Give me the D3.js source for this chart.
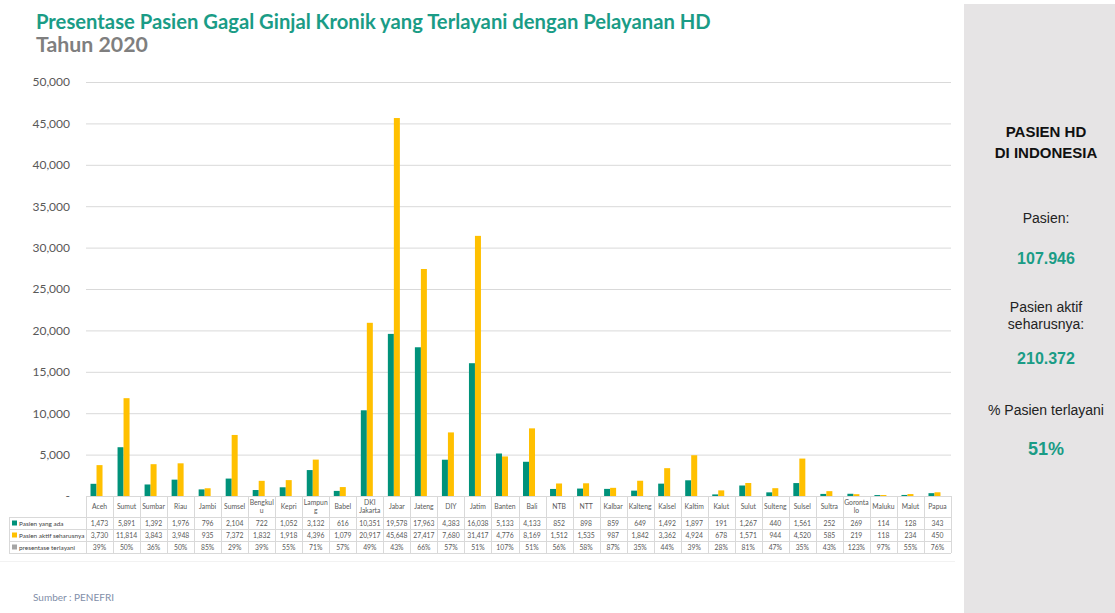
<!DOCTYPE html>
<html>
<head>
<meta charset="utf-8">
<script src="https://cdn.jsdelivr.net/npm/d3@7"></script>
<style>
  body { margin: 0; background: #fff; }
  svg { display: block; }
</style>
</head>
<body>
<div id="chart"></div>
<script>
// provinsi (label tabel, "\n" = baris kedua)
var categories = ["Aceh", "Sumut", "Sumbar", "Riau", "Jambi", "Sumsel", "Bengkul\nu", "Kepri", "Lampun\ng", "Babel",
  "DKI\nJakarta", "Jabar", "Jateng", "DIY", "Jatim", "Banten", "Bali", "NTB", "NTT", "Kalbar", "Kalteng",
  "Kalsel", "Kaltim", "Kalut", "Sulut", "Sulteng", "Sulsel", "Sultra", "Goronta\nlo", "Maluku", "Malut", "Papua"];

var pasienAda = [1473, 5891, 1392, 1976, 796, 2104, 722, 1052, 3132, 616,
  10351, 19578, 17963, 4383, 16038, 5133, 4133, 852, 898, 859, 649,
  1492, 1897, 191, 1267, 440, 1561, 252, 269, 114, 128, 343];

var pasienAktif = [3730, 11814, 3843, 3948, 935, 7372, 1832, 1918, 4396, 1079,
  20917, 45648, 27417, 7680, 31417, 4776, 8169, 1512, 1535, 987, 1842,
  3362, 4924, 678, 1571, 944, 4520, 585, 219, 118, 234, 450];

var presentase = [39, 50, 36, 50, 85, 29, 39, 55, 71, 57,
  49, 43, 66, 57, 51, 107, 51, 56, 58, 87, 35,
  44, 39, 28, 81, 47, 35, 43, 123, 97, 55, 76];

var seriesNames = ["Pasien yang ada", "Pasien aktif seharusnya", "presentase terlayani"];
var yTicks = [0, 5000, 10000, 15000, 20000, 25000, 30000, 35000, 40000, 45000, 50000];

var summaryLabels = ["Pasien:", "Pasien aktif\nseharusnya:", "% Pasien terlayani"];
var summaryValues = ["107.946", "210.372", "51%"];

var W = 1115, H = 613;
var green = "#00927a", yellow = "#ffc000", grey = "#a5a5a5";
var teal = "#1a9c86";
var font = "Lato, 'Open Sans', sans-serif";

var svg = d3.select("#chart").append("svg")
    .attr("width", W)
    .attr("height", H);

// right panel
svg.append("rect")
    .attr("x", 964).attr("y", 4)
    .attr("width", W - 964).attr("height", H - 4)
    .attr("fill", "#e6e4e5");

// title
var t1 = svg.append("text")
    .attr("x", 36).attr("y", 29)
    .style("font-family", font).style("font-weight", "bold")
    .style("font-size", "20px").attr("fill", teal)
    .text("Presentase Pasien Gagal Ginjal Kronik yang Terlayani dengan Pelayanan HD");
var w1 = t1.node().getComputedTextLength();
t1.style("font-size", (20 * 675 / w1) + "px");

var t2 = svg.append("text")
    .attr("x", 36).attr("y", 52)
    .style("font-family", font).style("font-weight", "bold")
    .style("font-size", "20px").attr("fill", "#7f7f7f")
    .text("Tahun 2020");
var w2 = t2.node().getComputedTextLength();
t2.style("font-size", (20 * 112 / w2) + "px");

// scales
var plotLeft = 86, plotRight = 951, plotBase = 496, plotTop = 82;
var x = d3.scaleBand().domain(d3.range(categories.length)).range([plotLeft, plotRight]).padding(0);
var groupW = 18;
var xs = d3.scaleBand().domain([0, 1, 2])
    .range([(x.bandwidth() - groupW) / 2, (x.bandwidth() + groupW) / 2]).padding(0);
var y = d3.scaleLinear().domain([0, 50000]).range([plotBase, plotTop]);

// gridlines + y axis
var yAxis = d3.axisLeft(y)
    .tickValues(yTicks)
    .tickSize(-(plotRight - plotLeft))
    .tickPadding(16)
    .tickFormat(function(d) { return d === 0 ? "-" : d3.format(",")(d); });

var gy = svg.append("g")
    .attr("transform", "translate(" + plotLeft + ",0)")
    .call(yAxis);
gy.select(".domain").remove();
gy.selectAll(".tick line").attr("stroke", "#d9d9d9").attr("stroke-width", 1);
gy.selectAll(".tick").filter(function(d) { return d === 0; }).select("line").remove();
gy.selectAll(".tick text")
    .style("font-family", font).style("font-size", "12px").attr("fill", "#595959");

// bars
var rows = categories.map(function(c, i) {
  return { i: i, vals: [pasienAda[i], pasienAktif[i], presentase[i] / 100] };
});
var colors = [green, yellow, grey];

var groups = svg.append("g").selectAll("g")
    .data(rows)
    .enter().append("g")
    .attr("transform", function(d) { return "translate(" + x(d.i) + ",0)"; });

groups.selectAll("rect")
    .data(function(d) { return d.vals.map(function(v, k) { return { k: k, v: v }; }); })
    .enter().append("rect")
    .attr("x", function(d) { return xs(d.k); })
    .attr("width", xs.bandwidth())
    .attr("y", function(d) { return y(d.v); })
    .attr("height", function(d) { return plotBase - y(d.v); })
    .attr("fill", function(d) { return colors[d.k]; });

// data table
var tableTop = plotBase, headerBottom = 517, rowH = 12, tableLeft = 9;
var table = svg.append("g");
var lineCol = "#d9d9d9";

table.append("line")
    .attr("x1", plotLeft).attr("x2", plotRight)
    .attr("y1", tableTop + 0.5).attr("y2", tableTop + 0.5)
    .attr("stroke", lineCol);
for (var r = 0; r <= 3; r++) {
  table.append("line")
      .attr("x1", tableLeft).attr("x2", plotRight)
      .attr("y1", headerBottom + r * rowH + 0.5).attr("y2", headerBottom + r * rowH + 0.5)
      .attr("stroke", lineCol);
}
var colEdges = d3.range(categories.length + 1).map(function(i) { return plotLeft + i * x.step(); });
table.selectAll(".vline")
    .data(colEdges)
    .enter().append("line")
    .attr("x1", function(d) { return Math.round(d) + 0.5; })
    .attr("x2", function(d) { return Math.round(d) + 0.5; })
    .attr("y1", tableTop).attr("y2", headerBottom + 3 * rowH)
    .attr("stroke", lineCol);
table.append("line")
    .attr("x1", tableLeft + 0.5).attr("x2", tableLeft + 0.5)
    .attr("y1", headerBottom).attr("y2", headerBottom + 3 * rowH)
    .attr("stroke", lineCol);

// header labels
table.selectAll(".hdr")
    .data(categories)
    .enter().append("text")
    .attr("text-anchor", "middle")
    .style("font-family", font).style("font-size", "6.8px").attr("fill", "#595959")
    .each(function(d, i) {
      var parts = d.split("\n");
      var cx = x(i) + x.bandwidth() / 2;
      var y0 = parts.length === 1 ? 509 : 505;
      d3.select(this).selectAll("tspan")
          .data(parts)
          .enter().append("tspan")
          .attr("x", cx)
          .attr("y", function(p, k) { return y0 + k * 8; })
          .text(function(p) { return p; });
    });

// row labels with key squares
seriesNames.forEach(function(name, k) {
  var yy = headerBottom + k * rowH + rowH / 2;
  table.append("rect")
      .attr("x", 12).attr("y", yy - 2.5)
      .attr("width", 5).attr("height", 5)
      .attr("fill", colors[k]);
  table.append("text")
      .attr("x", 19).attr("y", yy + 2.5)
      .style("font-family", font).style("font-size", "6.4px").attr("fill", "#404040")
      .text(name);
});

// row values
var rowVals = [
  pasienAda.map(function(v) { return d3.format(",")(v); }),
  pasienAktif.map(function(v) { return d3.format(",")(v); }),
  presentase.map(function(v) { return v + "%"; })
];
rowVals.forEach(function(vals, k) {
  var yy = headerBottom + k * rowH + rowH / 2 + 2.5;
  table.selectAll(".v" + k)
      .data(vals)
      .enter().append("text")
      .attr("x", function(d, i) { return x(i) + x.bandwidth() / 2; })
      .attr("y", yy)
      .attr("text-anchor", "middle")
      .style("font-family", font).style("font-size", "6.8px").attr("fill", "#595959")
      .text(function(d) { return d; });
});

// faint bottom separator
svg.append("line")
    .attr("x1", 0).attr("x2", 955)
    .attr("y1", 561.5).attr("y2", 561.5)
    .attr("stroke", "#f2f2f2");

// source
svg.append("text")
    .attr("x", 33).attr("y", 601)
    .style("font-family", font).style("font-size", "10px").attr("fill", "#7f8ea8")
    .text("Sumber : PENEFRI");

// summary panel
var cx = 1046;
var arial = "'Liberation Sans', Arial, sans-serif";
svg.append("text")
    .attr("x", cx).attr("y", 137).attr("text-anchor", "middle")
    .style("font-family", arial).style("font-weight", "bold").style("font-size", "15px")
    .attr("fill", "#111")
    .text("PASIEN HD");
svg.append("text")
    .attr("x", cx).attr("y", 158).attr("text-anchor", "middle")
    .style("font-family", arial).style("font-weight", "bold").style("font-size", "15px")
    .attr("fill", "#111")
    .text("DI INDONESIA");

var labelY = [223, 312, 415];
var valueY = [264, 364, 455];
summaryLabels.forEach(function(lbl, k) {
  var parts = lbl.split("\n");
  var tx = svg.append("text")
      .attr("text-anchor", "middle")
      .style("font-family", arial).style("font-size", "14px").attr("fill", "#222");
  tx.selectAll("tspan").data(parts).enter().append("tspan")
      .attr("x", cx)
      .attr("y", function(p, j) { return labelY[k] + j * 17; })
      .text(function(p) { return p; });
  svg.append("text")
      .attr("x", cx).attr("y", valueY[k]).attr("text-anchor", "middle")
      .style("font-family", arial).style("font-weight", "bold")
      .style("font-size", k === 2 ? "18px" : "16px")
      .attr("fill", teal)
      .text(summaryValues[k]);
});
</script>
</body>
</html>
